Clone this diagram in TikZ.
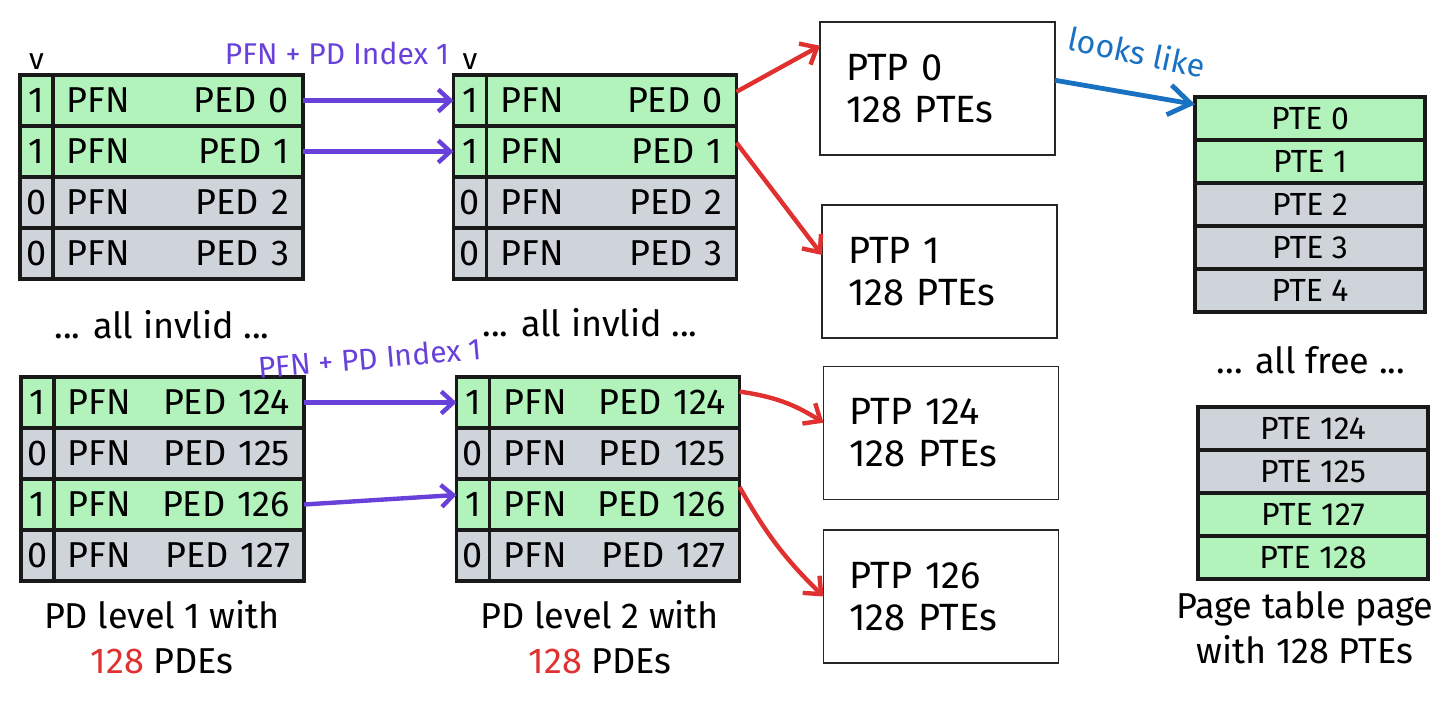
\documentclass[tikz,border=0pt]{standalone}
\usepackage{fontspec}
\setmainfont{Fira Sans}
\usetikzlibrary{positioning,arrows.meta}
\definecolor{validgreen}{HTML}{B2F2BB}
\definecolor{freegray}{HTML}{CED4DA}
\definecolor{linkviolet}{HTML}{6741D9}
\definecolor{ptred}{HTML}{E03131}
\definecolor{noteblue}{HTML}{1971C2}
\newcommand{\bigtext}{\fontsize{18}{22.5}\selectfont}
\newcommand{\boxtext}{\fontsize{19}{21}\selectfont}
\newcommand{\ptetext}{\fontsize{16}{18}\selectfont}
\newcommand{\notetext}{\fontsize{15}{17}\selectfont}
\tikzset{
  cell/.style = {draw=black!90, line width=1.6pt, outer sep=0pt, inner sep=0pt,
    minimum height=25.5pt, font=\bigtext},% one row of a table
  vbit/.style = {cell, minimum width=16.5pt},% valid bit column
  pde/.style = {cell, text width=111pt, inner xsep=7pt, align=left},% PFN + PED part
  valid/.style = {fill=validgreen},
  invalid/.style = {fill=freegray},
  ptp/.style = {draw=black!85, line width=0.8pt, outer sep=0pt, inner xsep=13pt,
    text width=91.5pt, minimum height=66.5pt, align=left, font=\boxtext},% page table page
  pte/.style = {cell, minimum width=115pt, minimum height=21.5pt, font=\ptetext},
  note/.style = {align=center, font=\bigtext, inner sep=0pt},
  link/.style = {linkviolet, line width=2.2pt, -{Straight Barb[length=6pt,width=11pt]}},
  walk/.style = {ptred, line width=2.2pt, -{Straight Barb[length=7pt,width=12pt]}},
  alike/.style = {noteblue, line width=2.4pt, -{Straight Barb[length=11pt,width=15pt]}}
}
\begin{document}
\begin{tikzpicture}[x=0.5pt, y=-0.5pt]
  \useasboundingbox (0,0) rectangle (1453,702);
  % PD level 1, first rows
  \node[font=\notetext] (va) at (36.5,62) {v};
  \node[vbit, valid] (a0v) at (36.5,100.5) {1};
  \node[pde, valid, right=0pt of a0v] (a0) {PFN\hfill PED 0};
  \node[vbit, valid, below=0pt of a0v] (a1v) {1};
  \node[pde, valid, right=0pt of a1v] (a1) {PFN\hfill PED 1};
  \node[vbit, invalid, below=0pt of a1v] (a2v) {0};
  \node[pde, invalid, right=0pt of a2v] (a2) {PFN\hfill PED 2};
  \node[vbit, invalid, below=0pt of a2v] (a3v) {0};
  \node[pde, invalid, right=0pt of a3v] (a3) {PFN\hfill PED 3};
  \node[note] (gapa) at (162,325) {... all invlid ...};
  % PD level 1, last rows
  \node[vbit, valid] (c0v) at (37.5,402.5) {1};
  \node[pde, valid, right=0pt of c0v] (c0) {PFN\hfill PED 124};
  \node[vbit, invalid, below=0pt of c0v] (c1v) {0};
  \node[pde, invalid, right=0pt of c1v] (c1) {PFN\hfill PED 125};
  \node[vbit, valid, below=0pt of c1v] (c2v) {1};
  \node[pde, valid, right=0pt of c2v] (c2) {PFN\hfill PED 126};
  \node[vbit, invalid, below=0pt of c2v] (c3v) {0};
  \node[pde, invalid, right=0pt of c3v] (c3) {PFN\hfill PED 127};
  \node[note] (lvl1) at (162,637) {PD level 1 with\\\textcolor{ptred}{128} PDEs};
  % PD level 2, first rows
  \node[font=\notetext] (vb) at (470,62) {v};
  \node[vbit, valid] (b0v) at (470,100.5) {1};
  \node[pde, valid, right=0pt of b0v] (b0) {PFN\hfill PED 0};
  \node[vbit, valid, below=0pt of b0v] (b1v) {1};
  \node[pde, valid, right=0pt of b1v] (b1) {PFN\hfill PED 1};
  \node[vbit, invalid, below=0pt of b1v] (b2v) {0};
  \node[pde, invalid, right=0pt of b2v] (b2) {PFN\hfill PED 2};
  \node[vbit, invalid, below=0pt of b2v] (b3v) {0};
  \node[pde, invalid, right=0pt of b3v] (b3) {PFN\hfill PED 3};
  \node[note] (gapb) at (590,323) {... all invlid ...};
  % PD level 2, last rows
  \node[vbit, valid] (d0v) at (473,402.5) {1};
  \node[pde, valid, right=0pt of d0v] (d0) {PFN\hfill PED 124};
  \node[vbit, invalid, below=0pt of d0v] (d1v) {0};
  \node[pde, invalid, right=0pt of d1v] (d1) {PFN\hfill PED 125};
  \node[vbit, valid, below=0pt of d1v] (d2v) {1};
  \node[pde, valid, right=0pt of d2v] (d2) {PFN\hfill PED 126};
  \node[vbit, invalid, below=0pt of d2v] (d3v) {0};
  \node[pde, invalid, right=0pt of d3v] (d3) {PFN\hfill PED 127};
  \node[note] (lvl2) at (600,637) {PD level 2 with\\\textcolor{ptred}{128} PDEs};
  % page table pages
  \node[ptp] (ptp0) at (937.5,88.5) {PTP 0\\128 PTEs};
  \node[ptp] (ptp1) at (939.5,271.5) {PTP 1\\128 PTEs};
  \node[ptp] (ptp124) at (941,433) {PTP 124\\128 PTEs};
  \node[ptp] (ptp126) at (941,596.5) {PTP 126\\128 PTEs};
  % one page table page
  \node[pte, valid] (pte0) at (1310,118.5) {PTE 0};
  \node[pte, valid, below=0pt of pte0] (pte1) {PTE 1};
  \node[pte, invalid, below=0pt of pte1] (pte2) {PTE 2};
  \node[pte, invalid, below=0pt of pte2] (pte3) {PTE 3};
  \node[pte, invalid, below=0pt of pte3] (pte4) {PTE 4};
  \node[note] (gapc) at (1311,360) {... all free ...};
  \node[pte, invalid] (pte124) at (1313,428.5) {PTE 124};
  \node[pte, invalid, below=0pt of pte124] (pte125) {PTE 125};
  \node[pte, valid, below=0pt of pte125] (pte127) {PTE 127};
  \node[pte, valid, below=0pt of pte127] (pte128) {PTE 128};
  \node[note] (ptpcap) at (1305,628) {Page table page\\with 128 PTEs};
  % labels on the links
  \node[font=\notetext, text=linkviolet] (idx1) at (337,53) {PFN + PD Index 1};
  \node[font=\notetext, text=linkviolet, rotate=5] (idx2) at (370,358) {PFN + PD Index 1};
  \node[font=\fontsize{16}{18}\selectfont, text=noteblue, rotate=-12] (looks) at (1137,52) {looks like};
  % connectors
  \draw[link] (a0.east) -- (b0v.west);
  \draw[link] (a1.east) -- (b1v.west);
  \draw[link] (c0.east) -- (d0v.west);
  \draw[link] (c2.east) -- (d2v.150);
  \draw[walk] (b0.4) -- (ptp0.160);
  \draw[walk] (b1.4) -- (ptp1.172);
  \draw[walk] (d0.5) to[bend left=12] (ptp124.175);
  \draw[walk] (d2.8) to[bend right=8] (ptp126.west);
  \draw[alike] (ptp0.4) -- (pte0.173);
\end{tikzpicture}
\end{document}
